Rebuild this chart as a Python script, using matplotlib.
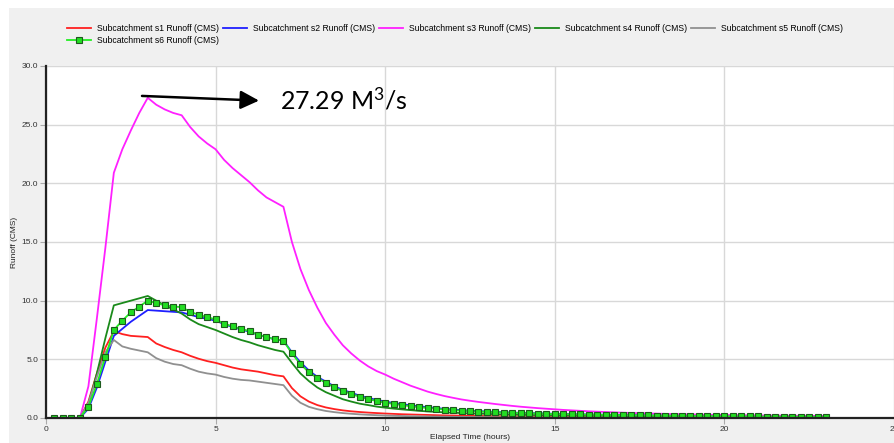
import numpy as np
import matplotlib
matplotlib.use("Agg")
import matplotlib.pyplot as plt
from matplotlib.patches import Rectangle

plt.rcParams['font.family'] = ['Liberation Sans', 'DejaVu Sans']
plt.rcParams['mathtext.fontset'] = 'custom'
plt.rcParams['mathtext.rm'] = 'Lato'
plt.rcParams['mathtext.it'] = 'Lato'

# runoff per 15 min report step, from 0.25 h to 23.0 h
REPORT_STEP = 0.25

s1 = [0, 0, 0, 0,
      1.4, 3.8, 6.0, 7.4, 7.15, 7.0, 6.95, 6.9,
      6.35, 6.05, 5.8, 5.6, 5.3, 5.05, 4.85, 4.7,
      4.5, 4.3, 4.15, 4.05, 3.95, 3.8, 3.65, 3.55,
      2.55, 1.85, 1.4, 1.1, 0.9, 0.76, 0.65, 0.57,
      0.51, 0.46, 0.42, 0.38, 0.35, 0.32, 0.30, 0.28,
      0.26, 0.24, 0.22, 0.21, 0.20, 0.19, 0.18, 0.17,
      0.16, 0.15, 0.14, 0.14, 0.13, 0.12, 0.12, 0.11,
      0.11, 0.10, 0.10, 0.10, 0.09, 0.09, 0.09, 0.08,
      0.08, 0.08, 0.07, 0.07, 0.07, 0.07, 0.06, 0.06,
      0.06, 0.06, 0.06, 0.05, 0.05, 0.05, 0.05, 0.05,
      0.05, 0.04, 0.04, 0.04, 0.04, 0.04, 0.04, 0.04]

s2 = [0, 0, 0, 0,
      0.8, 2.6, 4.8, 7.0, 7.6, 8.2, 8.7, 9.2,
      9.15, 9.1, 9.05, 9.0, 8.8, 8.6, 8.45, 8.3,
      8.0, 7.75, 7.55, 7.35, 7.1, 6.9, 6.7, 6.6,
      5.6, 4.75, 4.05, 3.5, 3.1, 2.7, 2.4, 2.15,
      1.9, 1.7, 1.55, 1.4, 1.28, 1.18, 1.08, 1.0,
      0.92, 0.85, 0.78, 0.72, 0.67, 0.63, 0.59, 0.55,
      0.52, 0.49, 0.46, 0.44, 0.42, 0.40, 0.38, 0.36,
      0.34, 0.33, 0.31, 0.30, 0.29, 0.28, 0.27, 0.26,
      0.25, 0.24, 0.23, 0.22, 0.21, 0.20, 0.19, 0.18,
      0.18, 0.17, 0.16, 0.16, 0.15, 0.15, 0.14, 0.14,
      0.13, 0.13, 0.12, 0.12, 0.12, 0.11, 0.11, 0.11]

s3 = [0, 0, 0, 0,
      2.7, 8.5, 14.5, 20.9, 22.9, 24.5, 26.0, 27.29,
      26.7, 26.3, 26.0, 25.8, 24.8, 24.0, 23.4, 22.9,
      22.0, 21.3, 20.7, 20.1, 19.4, 18.8, 18.4, 18.0,
      15.0, 12.7, 10.9, 9.4, 8.1, 7.1, 6.2, 5.5,
      4.9, 4.4, 4.0, 3.7, 3.35, 3.05, 2.75, 2.5,
      2.25, 2.05, 1.87, 1.72, 1.58, 1.47, 1.37, 1.28,
      1.19, 1.11, 1.03, 0.96, 0.90, 0.84, 0.79, 0.74,
      0.69, 0.65, 0.61, 0.57, 0.54, 0.51, 0.48, 0.45,
      0.43, 0.41, 0.39, 0.37, 0.35, 0.33, 0.32, 0.30,
      0.29, 0.28, 0.27, 0.26, 0.25, 0.24, 0.23, 0.22,
      0.21, 0.21, 0.20, 0.19, 0.19, 0.18, 0.18, 0.17]

s4 = [0, 0, 0, 0,
      1.2, 3.8, 6.8, 9.6, 9.8, 10.0, 10.2, 10.4,
      10.0, 9.6, 9.25, 8.9, 8.4, 8.0, 7.75, 7.5,
      7.2, 6.9, 6.65, 6.45, 6.2, 6.0, 5.8, 5.65,
      4.7, 3.8, 3.15, 2.6, 2.2, 1.9, 1.6, 1.4,
      1.22, 1.1, 0.97, 0.88, 0.80, 0.73, 0.67, 0.61,
      0.56, 0.52, 0.48, 0.45, 0.42, 0.39, 0.37, 0.35,
      0.33, 0.31, 0.29, 0.28, 0.26, 0.25, 0.24, 0.23,
      0.22, 0.21, 0.20, 0.19, 0.18, 0.18, 0.17, 0.16,
      0.16, 0.15, 0.15, 0.14, 0.14, 0.13, 0.13, 0.12,
      0.12, 0.11, 0.11, 0.11, 0.10, 0.10, 0.10, 0.09,
      0.09, 0.09, 0.08, 0.08, 0.08, 0.08, 0.07, 0.07]

s5 = [0, 0, 0, 0,
      1.3, 3.5, 5.6, 6.65, 6.1, 5.9, 5.75, 5.6,
      5.1, 4.8, 4.6, 4.5, 4.2, 3.95, 3.8, 3.7,
      3.5, 3.35, 3.25, 3.2, 3.1, 3.0, 2.9, 2.8,
      1.9, 1.3, 0.95, 0.75, 0.6, 0.5, 0.42, 0.36,
      0.31, 0.27, 0.24, 0.21, 0.19, 0.17, 0.15, 0.14,
      0.13, 0.12, 0.11, 0.10, 0.09, 0.09, 0.08, 0.08,
      0.07, 0.07, 0.06, 0.06, 0.06, 0.05, 0.05, 0.05,
      0.05, 0.04, 0.04, 0.04, 0.04, 0.04, 0.04, 0.03,
      0.03, 0.03, 0.03, 0.03, 0.03, 0.03, 0.03, 0.03,
      0.03, 0.03, 0.03, 0.03, 0.02, 0.02, 0.02, 0.02,
      0.02, 0.02, 0.02, 0.02, 0.02, 0.02, 0.02, 0.02]

s6 = [0, 0, 0, 0,
      0.95, 2.9, 5.2, 7.5, 8.3, 9.0, 9.5, 10.0,
      9.8, 9.6, 9.5, 9.45, 9.05, 8.8, 8.6, 8.4,
      8.05, 7.8, 7.6, 7.4, 7.1, 6.9, 6.7, 6.6,
      5.5, 4.6, 3.9, 3.4, 3.0, 2.6, 2.3, 2.05,
      1.8, 1.6, 1.45, 1.3, 1.2, 1.1, 1.0, 0.92,
      0.85, 0.79, 0.72, 0.67, 0.62, 0.58, 0.55, 0.52,
      0.49, 0.46, 0.44, 0.42, 0.40, 0.38, 0.36, 0.34,
      0.33, 0.31, 0.30, 0.29, 0.28, 0.27, 0.26, 0.25,
      0.24, 0.23, 0.22, 0.21, 0.20, 0.19, 0.18, 0.17,
      0.17, 0.16, 0.15, 0.15, 0.14, 0.14, 0.13, 0.13,
      0.12, 0.12, 0.11, 0.11, 0.11, 0.10, 0.10, 0.10]

labels = ['Subcatchment s1 Runoff (CMS)', 'Subcatchment s2 Runoff (CMS)',
          'Subcatchment s3 Runoff (CMS)', 'Subcatchment s4 Runoff (CMS)',
          'Subcatchment s5 Runoff (CMS)', 'Subcatchment s6 Runoff (CMS)']
colors = ['#ff2020', '#1f1fff', '#ff20ff', '#1a8a1a', '#909090', '#22ee22']

hours = np.arange(1, len(s1) + 1) * REPORT_STEP

W, H = 895, 443
fig = plt.figure(figsize=(W / 100, H / 100), dpi=100)
fig.patch.set_facecolor('white')
fig.add_artist(Rectangle((9 / W, 0), 1, 1 - 8 / H, transform=fig.transFigure,
                         facecolor='#f0f0f0', edgecolor='none', zorder=-10))

ax = fig.add_axes([46 / W, 1 - 418 / H, 848 / W, 352 / H])
ax.set_facecolor('white')

handles = []
for ser, lab, col in zip([s1, s2, s3, s4, s5], labels[:5], colors[:5]):
    h, = ax.plot(hours, ser, color=col, lw=1.3, label=lab, zorder=3)
    handles.append(h)
h6, = ax.plot(hours, s6, color=colors[5], lw=1.3, marker='s', markersize=4.2,
              markerfacecolor='#22dd22', markeredgecolor='#1d5a1d',
              markeredgewidth=0.8, label=labels[5], zorder=4)

ax.set_xlim(0, 25)
ax.set_ylim(0, 30)
ax.set_xticks(np.arange(0, 26, 5))
ax.set_yticks(np.arange(0, 31, 5))
ax.yaxis.set_major_formatter(matplotlib.ticker.FormatStrFormatter('%.1f'))
ax.grid(True, color='#d8d8d8', lw=1.0, zorder=0)
ax.set_axisbelow(True)
for s in ['top', 'right']:
    ax.spines[s].set_visible(False)
for s in ['left', 'bottom']:
    ax.spines[s].set_color('#222222')
    ax.spines[s].set_linewidth(1.6)
    ax.spines[s].set_zorder(5)
ax.tick_params(axis='both', labelsize=6, labelcolor='#333333', color='#aaaaaa',
               length=4.5, width=0.8, pad=1)
ax.set_ylabel('Runoff (CMS)', fontsize=6, color='#222222', labelpad=3)
ax.set_xlabel('Elapsed Time (hours)', fontsize=6, color='#222222', labelpad=1)

# peak annotation
ax.annotate('', xy=(6.28, 27.05), xytext=(2.83, 27.45),
            arrowprops=dict(arrowstyle='-|>', color='black', lw=1.8,
                            mutation_scale=28, shrinkA=0, shrinkB=0), zorder=6)
ax.text(6.9, 27.1, '27.29 M$^3$/s', fontsize=18, family='Lato',
        ha='left', va='center', color='black', zorder=6)

order = [handles[0], h6, handles[1], handles[2], handles[3], handles[4]]
fig.legend(handles=order, labels=[h.get_label() for h in order], ncol=5,
           loc='upper left', bbox_to_anchor=(67 / W, 1 - 24 / H), frameon=False,
           fontsize=6.2, borderpad=0, borderaxespad=0, handlelength=2.8,
           handletextpad=0.7, columnspacing=0.45, labelspacing=0.3)

fig.savefig('out.png', dpi=100)
